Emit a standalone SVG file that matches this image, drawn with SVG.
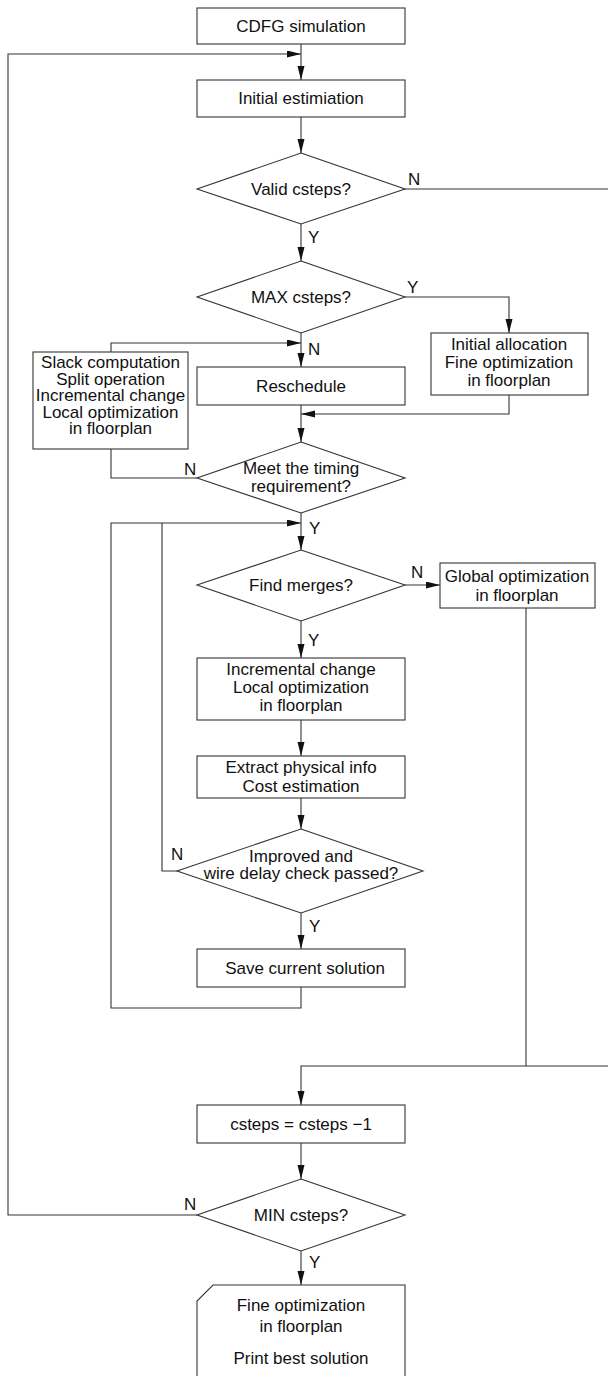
<svg xmlns="http://www.w3.org/2000/svg" width="608" height="1376" viewBox="0 0 608 1376">
<style>
.s{fill:#fff;stroke:#333;stroke-width:1.1}
.c{fill:none;stroke:#333;stroke-width:1.1}
text{font-family:"Liberation Sans",Arial,sans-serif;font-size:17px;fill:#111}
.m{text-anchor:middle}
</style>
<defs>
<marker id="a" markerUnits="userSpaceOnUse" markerWidth="15" markerHeight="8" refX="14" refY="3.5" orient="auto">
<path d="M0,0 L14,3.5 L0,7 z" fill="#111"/>
</marker>
</defs>
<rect width="608" height="1376" fill="#fff"/>
<g id="connectors">
<path class="c" d="M301,44 V80" marker-end="url(#a)"/>
<path class="c" d="M197,1215 H8 V54 H301" marker-end="url(#a)"/>
<path class="c" d="M301,117 V153" marker-end="url(#a)"/>
<path class="c" d="M405,189 H608"/>
<path class="c" d="M301,224 V261" marker-end="url(#a)"/>
<path class="c" d="M405,297 H509 V333" marker-end="url(#a)"/>
<path class="c" d="M301,333 V367" marker-end="url(#a)"/>
<path class="c" d="M111,352 V343 H301" marker-end="url(#a)"/>
<path class="c" d="M509,395 V414 H301" marker-end="url(#a)"/>
<path class="c" d="M301,405 V442" marker-end="url(#a)"/>
<path class="c" d="M197,478 H111 V449"/>
<path class="c" d="M301,513 V550" marker-end="url(#a)"/>
<path class="c" d="M301,987 V1008 H111 V523 H301" marker-end="url(#a)"/>
<path class="c" d="M177,871 H162 V523"/>
<path class="c" d="M405,585 H440" marker-end="url(#a)"/>
<path class="c" d="M301,621 V658" marker-end="url(#a)"/>
<path class="c" d="M301,720 V756" marker-end="url(#a)"/>
<path class="c" d="M301,798 V829" marker-end="url(#a)"/>
<path class="c" d="M301,913 V949" marker-end="url(#a)"/>
<path class="c" d="M526,608 V1066"/>
<path class="c" d="M608,1066 H301 V1105" marker-end="url(#a)"/>
<path class="c" d="M301,1143 V1179" marker-end="url(#a)"/>
<path class="c" d="M301,1251 V1285" marker-end="url(#a)"/>
<text x="408" y="185">N</text>
<text x="308" y="243">Y</text>
<text x="407" y="293">Y</text>
<text x="308" y="355">N</text>
<text x="184" y="475">N</text>
<text x="309" y="534">Y</text>
<text x="411" y="578">N</text>
<text x="308" y="646">Y</text>
<text x="171" y="860">N</text>
<text x="309" y="932">Y</text>
<text x="184" y="1210">N</text>
<text x="309" y="1268">Y</text>
</g>
<g id="cdfg"><rect class="s" x="197" y="8" width="208" height="36"/><text class="m" x="301" y="32">CDFG simulation</text></g>
<g id="init-est"><rect class="s" x="197" y="80" width="208" height="37"/><text class="m" x="301" y="104">Initial estimiation</text></g>
<g id="valid"><path class="s" d="M301,153 L405,189 L301,224 L197,189 Z"/><text class="m" x="301" y="195">Valid csteps?</text></g>
<g id="max"><path class="s" d="M301,261 L405,297 L301,333 L197,297 Z"/><text class="m" x="301" y="303">MAX csteps?</text></g>
<g id="init-alloc"><rect class="s" x="431" y="333" width="157" height="62"/><text class="m" x="509" y="350">Initial allocation</text><text class="m" x="509" y="368">Fine optimization</text><text class="m" x="509" y="386">in floorplan</text></g>
<g id="slack"><rect class="s" x="33" y="352" width="155" height="97"/><text class="m" x="110.5" y="368">Slack computation</text><text class="m" x="110.5" y="384.5">Split operation</text><text class="m" x="110.5" y="401">Incremental change</text><text class="m" x="110.5" y="417.5">Local optimization</text><text class="m" x="110.5" y="434">in floorplan</text></g>
<g id="reschedule"><rect class="s" x="197" y="367" width="208" height="38"/><text class="m" x="301" y="392">Reschedule</text></g>
<g id="meet"><path class="s" d="M301,442 L405,478 L301,513 L197,478 Z"/><text class="m" x="301" y="474">Meet the timing</text><text class="m" x="301" y="492">requirement?</text></g>
<g id="find"><path class="s" d="M301,550 L405,585 L301,621 L197,585 Z"/><text class="m" x="301" y="591">Find merges?</text></g>
<g id="global"><rect class="s" x="440" y="563" width="155" height="45"/><text class="m" x="517" y="582">Global optimization</text><text class="m" x="517" y="601">in floorplan</text></g>
<g id="incr"><rect class="s" x="197" y="658" width="208" height="62"/><text class="m" x="301" y="675">Incremental change</text><text class="m" x="301" y="693">Local optimization</text><text class="m" x="301" y="711">in floorplan</text></g>
<g id="extract"><rect class="s" x="197" y="756" width="208" height="42"/><text class="m" x="301" y="773">Extract physical info</text><text class="m" x="301" y="792">Cost estimation</text></g>
<g id="improved"><path class="s" d="M301,829 L423,871 L301,913 L177,871 Z"/><text class="m" x="301" y="862">Improved and</text><text class="m" x="301" y="879">wire delay check passed?</text></g>
<g id="save"><rect class="s" x="197" y="949" width="208" height="38"/><text class="m" x="305" y="974">Save current solution</text></g>
<g id="dec"><rect class="s" x="197" y="1105" width="208" height="38"/><text class="m" x="301" y="1130">csteps = csteps −1</text></g>
<g id="min"><path class="s" d="M301,1179 L405,1215 L301,1251 L197,1215 Z"/><text class="m" x="301" y="1221">MIN csteps?</text></g>
<g id="final"><path class="s" d="M213,1285 H405 V1390 H197 V1301 Z"/><text class="m" x="301" y="1311">Fine optimization</text><text class="m" x="301" y="1332">in floorplan</text><text class="m" x="301" y="1364">Print best solution</text></g>
</svg>
